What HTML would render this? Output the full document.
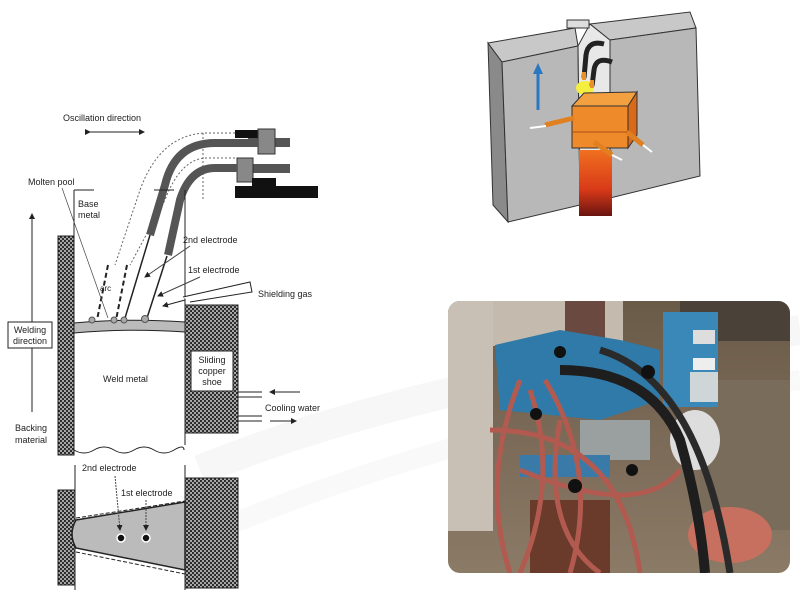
<!DOCTYPE html>
<html><head><meta charset="utf-8"><style>
html,body{margin:0;padding:0;background:#fff;}
svg{display:block}
text{font-family:"Liberation Sans",sans-serif;fill:#222}
</style></head><body>
<svg width="800" height="612" viewBox="0 0 800 612" xmlns="http://www.w3.org/2000/svg">
<defs>
<pattern id="hx" width="4" height="4" patternUnits="userSpaceOnUse">
<rect width="4" height="4" fill="#aaa"/><circle cx="1" cy="1" r="1.1" fill="#222"/><circle cx="3" cy="3" r="1.1" fill="#222"/>
</pattern>
<linearGradient id="weld" x1="0" y1="0" x2="0" y2="1"><stop offset="0" stop-color="#f07020"/><stop offset="0.6" stop-color="#d83a18"/><stop offset="1" stop-color="#6a1410"/></linearGradient>
<linearGradient id="floor" x1="0" y1="0" x2="0" y2="1"><stop offset="0" stop-color="#6a5a48"/><stop offset="1" stop-color="#8a7a66"/></linearGradient>
<marker id="ah" markerWidth="6" markerHeight="6" refX="5" refY="3" orient="auto"><path d="M0,0 L6,3 L0,6z" fill="#222"/></marker>
</defs>
<!-- faint swoosh -->
<path d="M200 470 Q420 380 800 330" stroke="#f7f7f7" stroke-width="30" fill="none"/>
<path d="M150 560 Q450 420 800 380" stroke="#f9f9f9" stroke-width="20" fill="none"/>

<!-- LEFT DIAGRAM -->
<text x="63" y="121" font-size="9">Oscillation direction</text>
<line x1="90" y1="132" x2="144" y2="132" stroke="#222" marker-end="url(#ah)" marker-start="url(#ah)"/>
<rect x="235" y="130" width="30" height="8" fill="#111"/>
<rect x="248" y="138" width="42" height="9" fill="#555"/>
<rect x="258" y="129" width="17" height="25" fill="#888" stroke="#333"/>
<rect x="240" y="164" width="50" height="9" fill="#555"/>
<rect x="237" y="158" width="16" height="24" fill="#888" stroke="#333"/>
<rect x="252" y="178" width="24" height="8" fill="#111"/>
<rect x="235" y="186" width="83" height="12" fill="#111"/>
<path d="M235 133 L205 133 Q160 135 140 190 L115 265" stroke="#666" stroke-dasharray="2,2" fill="none"/>
<path d="M235 158 L205 158 Q180 160 165 200 L130 265" stroke="#666" stroke-dasharray="2,2" fill="none"/>
<path d="M203 133 L203 200" stroke="#666" stroke-dasharray="2,2"/>
<path d="M108 265 L97 320" stroke="#222" stroke-width="2" stroke-dasharray="5,3"/>
<path d="M127 265 L116 320" stroke="#222" stroke-width="2" stroke-dasharray="5,3"/>
<path d="M258 143 L215 143 Q175 143 165 185 L150 235" stroke="#555" stroke-width="8" fill="none"/>
<path d="M237 168 L215 168 Q190 168 180 200 L168 255" stroke="#555" stroke-width="8" fill="none"/>
<line x1="150" y1="235" x2="125" y2="318" stroke="#222" stroke-width="1.5"/>
<line x1="167" y1="256" x2="147" y2="318" stroke="#222" stroke-width="1.5"/>
<line x1="74" y1="190" x2="74" y2="455" stroke="#222"/>
<line x1="185" y1="190" x2="185" y2="445" stroke="#222"/>
<path d="M74 190 L185 190" stroke="#222" stroke-dasharray="20,60"/>
<rect x="58" y="236" width="16" height="219" fill="url(#hx)" stroke="#222"/>
<rect x="185" y="305" width="53" height="128" fill="url(#hx)" stroke="#222"/>
<rect x="191" y="351" width="42" height="40" fill="#fff" stroke="#222"/>
<text x="212" y="363" font-size="9" text-anchor="middle">Sliding</text>
<text x="212" y="374" font-size="9" text-anchor="middle">copper</text>
<text x="212" y="385" font-size="9" text-anchor="middle">shoe</text>
<path d="M74 323 Q130 318 185 322 L185 332 Q130 328 74 333z" fill="#bbb" stroke="#222"/>
<circle cx="92" cy="320" r="3" fill="#aaa" stroke="#555"/><circle cx="114" cy="320" r="3" fill="#aaa" stroke="#555"/><circle cx="124" cy="320" r="3" fill="#aaa" stroke="#555"/><circle cx="145" cy="319" r="3.5" fill="#aaa" stroke="#555"/>
<path d="M74 450 q10 6 20 0 t20 0 t20 0 t20 0 t20 0 t10 0" stroke="#222" fill="none"/>
<path d="M183 297 L250 282 L252 292 L190 302" fill="#fff" stroke="#222"/>
<line x1="185" y1="300" x2="163" y2="306" stroke="#222" marker-end="url(#ah)"/>
<text x="258" y="297" font-size="9">Shielding gas</text>
<line x1="238" y1="392" x2="262" y2="392" stroke="#222"/>
<line x1="238" y1="397" x2="262" y2="397" stroke="#222"/>
<line x1="300" y1="392" x2="270" y2="392" stroke="#222" marker-end="url(#ah)"/>
<text x="265" y="411" font-size="9">Cooling water</text>
<line x1="238" y1="416" x2="262" y2="416" stroke="#222"/>
<line x1="238" y1="421" x2="262" y2="421" stroke="#222"/>
<line x1="270" y1="421" x2="296" y2="421" stroke="#222" marker-end="url(#ah)"/>
<text x="103" y="382" font-size="9">Weld metal</text>
<text x="28" y="185" font-size="9">Molten pool</text>
<line x1="62" y1="188" x2="108" y2="318" stroke="#444" stroke-width="0.7"/>
<text x="78" y="207" font-size="9">Base</text>
<text x="78" y="218" font-size="9">metal</text>
<text x="183" y="243" font-size="9">2nd electrode</text>
<line x1="190" y1="246" x2="145" y2="277" stroke="#444" marker-end="url(#ah)"/>
<text x="188" y="273" font-size="9">1st electrode</text>
<line x1="200" y1="277" x2="158" y2="296" stroke="#444" marker-end="url(#ah)"/>
<text x="100" y="291" font-size="8">arc</text>
<line x1="32" y1="412" x2="32" y2="214" stroke="#222" marker-end="url(#ah)"/>
<rect x="8" y="322" width="44" height="26" fill="#fff" stroke="#222"/>
<text x="30" y="333" font-size="9" text-anchor="middle">Welding</text>
<text x="30" y="344" font-size="9" text-anchor="middle">direction</text>
<text x="15" y="431" font-size="9">Backing</text>
<text x="15" y="443" font-size="9">material</text>

<line x1="75" y1="465" x2="75" y2="590" stroke="#222"/>
<line x1="185" y1="465" x2="185" y2="590" stroke="#222"/>
<rect x="58" y="490" width="17" height="95" fill="url(#hx)" stroke="#222"/>
<rect x="185" y="478" width="53" height="110" fill="url(#hx)" stroke="#222"/>
<path d="M76 520 L185 502 L185 570 L76 548 Q68 534 76 520z" fill="#bbb" stroke="#222" stroke-width="1.5"/>
<path d="M76 518 L185 501" stroke="#222" stroke-dasharray="4,2"/>
<path d="M76 552 L185 574" stroke="#222" stroke-dasharray="4,2"/>
<circle cx="121" cy="538" r="4" fill="#111" stroke="#fff" stroke-width="1.5"/>
<circle cx="146" cy="538" r="4" fill="#111" stroke="#fff" stroke-width="1.5"/>
<text x="82" y="471" font-size="9">2nd electrode</text>
<text x="121" y="496" font-size="9">1st electrode</text>
<line x1="115" y1="476" x2="120" y2="530" stroke="#444" stroke-dasharray="2,1" marker-end="url(#ah)"/>
<line x1="146" y1="500" x2="146" y2="530" stroke="#444" stroke-dasharray="2,1" marker-end="url(#ah)"/>

<!-- TOP RIGHT 3D -->
<polygon points="488,43 502,62 508,222 493,205" fill="#8a8a8a" stroke="#333"/>
<polygon points="488,43 575,28 578,46 502,62" fill="#c8c8c8" stroke="#333"/>
<polygon points="502,62 578,46 580,205 508,222" fill="#b8b8b8" stroke="#333"/>
<polygon points="578,46 590,24 610,40 610,198 580,205" fill="#e8e8e8" stroke="#333"/>
<rect x="567" y="20" width="22" height="8" fill="#ddd" stroke="#333"/>
<polygon points="590,24 690,12 696,28 610,40" fill="#c8c8c8" stroke="#333"/>
<polygon points="610,40 696,28 700,176 610,198" fill="#b8b8b8" stroke="#333"/>
<rect x="579" y="150" width="33" height="66" fill="url(#weld)"/>
<ellipse cx="585" cy="88" rx="9" ry="7" fill="#f4ee40"/>
<path d="M604 44 Q588 40 586 55 L584 78" stroke="#222" stroke-width="5" fill="none"/>
<path d="M612 62 Q596 56 594 70 L592 86" stroke="#222" stroke-width="5" fill="none"/>
<line x1="584" y1="72" x2="584" y2="80" stroke="#e8902a" stroke-width="4"/>
<line x1="592" y1="80" x2="592" y2="88" stroke="#e8902a" stroke-width="4"/>
<line x1="538" y1="110" x2="538" y2="72" stroke="#2a78c0" stroke-width="3"/>
<polygon points="533,74 538,63 543,74" fill="#2a78c0"/>
<polygon points="572,106 584,93 637,92 628,106" fill="#f2a040" stroke="#333"/>
<polygon points="628,106 637,92 637,135 628,148" fill="#d86a18" stroke="#333"/>
<rect x="572" y="106" width="56" height="42" fill="#ee8a2a" stroke="#333"/>
<line x1="572" y1="132" x2="628" y2="132" stroke="#a85012"/>
<line x1="574" y1="118" x2="545" y2="125" stroke="#e08020" stroke-width="5"/>
<line x1="546" y1="126" x2="530" y2="128" stroke="#fff" stroke-width="2"/>
<line x1="594" y1="142" x2="612" y2="155" stroke="#e08020" stroke-width="5"/>
<line x1="612" y1="155" x2="622" y2="160" stroke="#fff" stroke-width="2"/>
<line x1="627" y1="132" x2="643" y2="145" stroke="#e08020" stroke-width="5"/>
<line x1="643" y1="145" x2="652" y2="152" stroke="#fff" stroke-width="2"/>

<!-- PHOTO -->
<clipPath id="pc"><rect x="448" y="301" width="342" height="272" rx="12"/></clipPath>
<g clip-path="url(#pc)">
<rect x="448" y="301" width="342" height="272" fill="url(#floor)"/>
<rect x="448" y="301" width="45" height="230" fill="#c8c0b4"/>
<rect x="680" y="301" width="110" height="40" fill="#4a4238"/>
<rect x="700" y="380" width="90" height="150" fill="#7a6c5a"/>
<rect x="493" y="301" width="130" height="45" fill="#c4bbae"/>
<rect x="565" y="301" width="40" height="40" fill="#6a4a40"/>
<polygon points="495,345 560,330 620,340 660,350 660,400 600,420 500,410" fill="#2f7aa8"/>
<rect x="663" y="312" width="55" height="95" fill="#3a88b8"/>
<rect x="693" y="330" width="22" height="14" fill="#ddd"/>
<rect x="693" y="358" width="22" height="12" fill="#eee"/>
<rect x="690" y="372" width="28" height="30" fill="#cfd6d8"/>
<rect x="580" y="420" width="70" height="40" fill="#9aa0a0"/>
<rect x="520" y="455" width="90" height="22" fill="#3a7aa8"/>
<ellipse cx="695" cy="440" rx="25" ry="30" fill="#ddd"/>
<ellipse cx="730" cy="535" rx="42" ry="28" fill="#c87060"/>
<rect x="530" y="500" width="80" height="73" fill="#6a3a2a"/>
<g fill="none" stroke="#b25a50" stroke-width="5">
<path d="M520 380 Q480 480 510 573"/><path d="M530 390 Q560 480 520 573"/>
<path d="M545 380 Q600 470 570 573"/><path d="M490 430 Q620 430 640 573"/>
<path d="M520 470 Q640 520 680 470"/><path d="M560 420 Q540 530 600 573"/>
</g>
<path d="M560 370 Q650 370 680 440 Q700 510 705 573" stroke="#1e1e1e" stroke-width="10" fill="none"/>
<path d="M600 350 Q700 380 730 573" stroke="#2a2a2a" stroke-width="7" fill="none"/>
<circle cx="560" cy="352" r="6" fill="#111"/><circle cx="648" cy="372" r="7" fill="#111"/>
<circle cx="536" cy="414" r="6" fill="#111"/><circle cx="575" cy="486" r="7" fill="#111"/>
<circle cx="632" cy="470" r="6" fill="#111"/>
</g>
</svg>
</body></html>
